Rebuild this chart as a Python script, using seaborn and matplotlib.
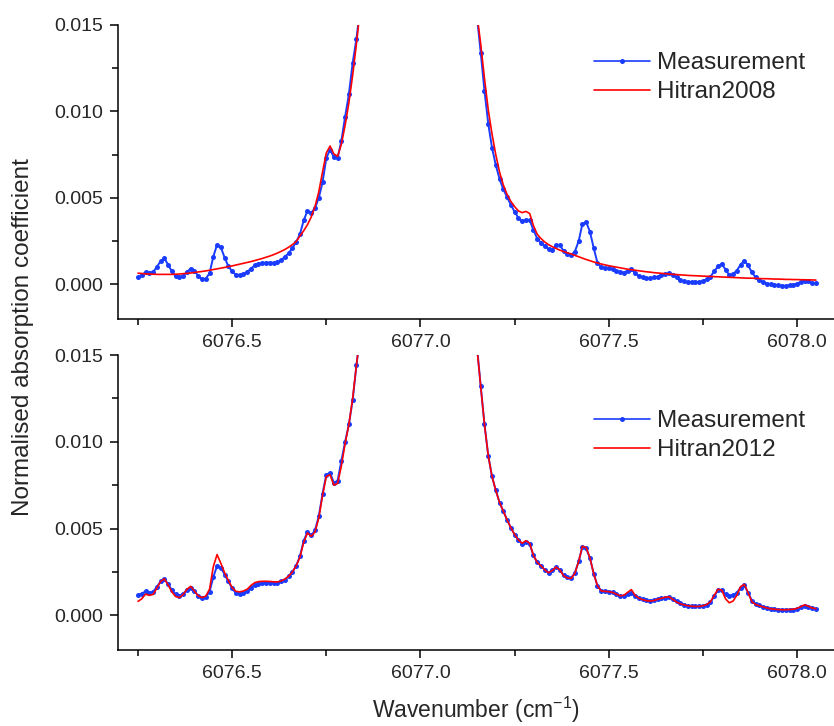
import numpy as np
import pandas as pd
import matplotlib
matplotlib.use('Agg')
import matplotlib.pyplot as plt
from matplotlib.ticker import MultipleLocator, FormatStrFormatter
import seaborn as sns

# wavenumber grids (cm-1), the strong line centre in between is off scale
wn_left = np.round(np.arange(6076.25, 6076.845, 0.01), 2)
wn_right = np.round(np.arange(6077.15, 6078.055, 0.01), 2)

# absorption values in units of 1e-3
meas_top_left = [
    0.40, 0.55, 0.70, 0.68, 0.72, 1.00, 1.35, 1.50, 1.15, 0.75,
    0.48, 0.40, 0.50, 0.72, 0.92, 0.80, 0.48, 0.30, 0.33, 0.65,
    1.60, 2.30, 2.15, 1.55, 1.05, 0.75, 0.55, 0.52, 0.60, 0.72,
    0.92, 1.10, 1.20, 1.24, 1.26, 1.26, 1.25, 1.30, 1.40, 1.60,
    1.80, 2.10, 2.45, 2.90, 3.70, 4.25, 4.15, 4.40, 5.00, 5.90,
    7.30, 7.80, 7.35, 7.30, 8.30, 9.70, 11.00, 12.80, 14.20, 16.00]
meas_top_right = [
    15.5, 13.4, 11.2, 9.3, 7.9, 6.9, 6.1, 5.5, 5.05, 4.6,
    4.2, 3.85, 3.65, 3.75, 3.7, 3.15, 2.65, 2.4, 2.22, 2.05,
    2.0, 2.25, 2.25, 1.95, 1.78, 1.70, 1.9, 2.5, 3.5, 3.6,
    3.05, 2.10, 1.25, 0.98, 0.97, 0.95, 0.88, 0.80, 0.72, 0.68,
    0.80, 0.88, 0.65, 0.48, 0.40, 0.35, 0.35, 0.40, 0.45, 0.52,
    0.60, 0.65, 0.55, 0.40, 0.25, 0.18, 0.14, 0.13, 0.13, 0.14,
    0.20, 0.30, 0.45, 0.75, 1.05, 1.20, 0.85, 0.55, 0.60, 0.80,
    1.15, 1.38, 1.10, 0.70, 0.40, 0.25, 0.12, 0.05, 0.02, -0.02,
    -0.05, -0.07, -0.08, -0.06, -0.02, 0.05, 0.15, 0.22, 0.18, 0.08,
    0.06]
hitran2008_left = [
    0.65, 0.63, 0.61, 0.60, 0.59, 0.58, 0.58, 0.58, 0.58, 0.58,
    0.59, 0.60, 0.62, 0.64, 0.66, 0.69, 0.72, 0.75, 0.78, 0.82,
    0.86, 0.90, 0.94, 0.98, 1.03, 1.07, 1.12, 1.17, 1.22, 1.27,
    1.32, 1.38, 1.44, 1.50, 1.57, 1.64, 1.72, 1.81, 1.91, 2.02,
    2.15, 2.30, 2.48, 2.80, 3.10, 3.45, 3.90, 4.50, 5.35, 6.50,
    7.60, 8.00, 7.55, 7.40, 8.10, 9.20, 10.50, 12.10, 13.90, 15.90]
hitran2008_right = [
    15.6, 13.9, 11.9, 10.1, 8.7, 7.5, 6.5, 5.75, 5.2, 4.8,
    4.5, 4.25, 4.15, 4.22, 4.1, 3.4, 2.9, 2.65, 2.45, 2.3,
    2.18, 2.08, 1.98, 1.9, 1.83, 1.76, 1.68, 1.6, 1.52, 1.44,
    1.37, 1.3, 1.24, 1.18, 1.13, 1.08, 1.04, 1.0, 0.96, 0.92,
    0.88, 0.85, 0.82, 0.79, 0.76, 0.73, 0.71, 0.68, 0.66, 0.64,
    0.62, 0.60, 0.58, 0.57, 0.55, 0.54, 0.52, 0.51, 0.50, 0.49,
    0.48, 0.47, 0.46, 0.45, 0.44, 0.43, 0.42, 0.41, 0.40, 0.39,
    0.38, 0.37, 0.36, 0.36, 0.35, 0.34, 0.33, 0.33, 0.32, 0.31,
    0.31, 0.30, 0.29, 0.29, 0.28, 0.28, 0.27, 0.27, 0.26, 0.26,
    0.25]

meas_bot_left = [
    1.15, 1.25, 1.38, 1.30, 1.35, 1.63, 1.95, 2.10, 1.80, 1.45,
    1.20, 1.12, 1.25, 1.45, 1.60, 1.40, 1.12, 1.00, 1.05, 1.35,
    2.20, 2.85, 2.75, 2.35, 1.95, 1.55, 1.28, 1.25, 1.28, 1.38,
    1.60, 1.75, 1.82, 1.86, 1.87, 1.87, 1.87, 1.88, 1.95, 2.05,
    2.25, 2.50, 2.85, 3.40, 4.30, 4.80, 4.60, 4.90, 5.70, 7.00,
    8.10, 8.20, 7.65, 7.75, 8.90, 10.00, 11.00, 12.40, 14.40, 16.20]
meas_bot_right = [
    15.5, 13.2, 11.0, 9.2, 8.0, 7.2, 6.5, 6.0, 5.5, 5.05,
    4.65, 4.35, 4.12, 4.25, 4.10, 3.45, 3.05, 2.85, 2.62, 2.45,
    2.60, 2.78, 2.62, 2.30, 2.18, 2.15, 2.45, 3.10, 3.95, 3.85,
    3.30, 2.40, 1.70, 1.42, 1.40, 1.37, 1.32, 1.20, 1.10, 1.10,
    1.20, 1.28, 1.10, 0.98, 0.92, 0.86, 0.84, 0.88, 0.95, 0.97,
    1.02, 1.05, 0.95, 0.80, 0.70, 0.62, 0.56, 0.53, 0.52, 0.52,
    0.55, 0.62, 0.75, 1.10, 1.45, 1.45, 1.20, 1.12, 1.15, 1.30,
    1.60, 1.72, 1.30, 0.85, 0.65, 0.58, 0.50, 0.43, 0.38, 0.35,
    0.33, 0.32, 0.32, 0.32, 0.33, 0.36, 0.45, 0.55, 0.50, 0.40,
    0.37]
hitran2012_left = [
    0.80, 0.95, 1.22, 1.15, 1.20, 1.55, 1.95, 2.10, 1.75, 1.35,
    1.08, 1.02, 1.20, 1.50, 1.67, 1.40, 1.12, 1.02, 1.10, 1.50,
    2.80, 3.50, 3.00, 2.45, 2.00, 1.60, 1.38, 1.35, 1.40, 1.50,
    1.72, 1.88, 1.94, 1.96, 1.96, 1.95, 1.93, 1.92, 1.98, 2.08,
    2.25, 2.50, 2.85, 3.35, 4.20, 4.75, 4.55, 4.80, 5.60, 6.90,
    8.00, 8.10, 7.50, 7.60, 8.60, 9.90, 11.00, 12.50, 14.40, 16.20]
hitran2012_right = [
    15.4, 13.2, 11.0, 9.2, 8.0, 7.2, 6.5, 6.0, 5.5, 5.05,
    4.65, 4.35, 4.15, 4.30, 4.15, 3.45, 3.05, 2.85, 2.62, 2.45,
    2.58, 2.78, 2.62, 2.28, 2.15, 2.12, 2.42, 3.10, 3.98, 3.90,
    3.30, 2.40, 1.70, 1.40, 1.38, 1.36, 1.32, 1.22, 1.12, 1.15,
    1.32, 1.48, 1.15, 0.98, 0.90, 0.84, 0.82, 0.85, 0.92, 0.98,
    1.04, 1.06, 0.92, 0.76, 0.66, 0.60, 0.55, 0.52, 0.51, 0.51,
    0.55, 0.62, 0.78, 1.15, 1.50, 1.45, 0.95, 0.72, 0.82, 1.15,
    1.65, 1.78, 1.30, 0.78, 0.62, 0.55, 0.48, 0.42, 0.37, 0.35,
    0.33, 0.32, 0.32, 0.33, 0.35, 0.40, 0.50, 0.60, 0.52, 0.42,
    0.38]

BLUE = '#1a3cff'
RED = '#ff0000'

sns.set_style('ticks')
plt.rcParams['font.family'] = ['Liberation Sans', 'DejaVu Sans']
plt.rcParams['mathtext.fontset'] = 'custom'
plt.rcParams['mathtext.rm'] = 'Liberation Sans'
plt.rcParams['mathtext.it'] = 'Liberation Sans'


def make_frame(meas_l, meas_r, model_l, model_r):
    wn = np.concatenate([wn_left, wn_right])
    meas = np.concatenate([meas_l, meas_r]) * 1e-3
    model = np.concatenate([model_l, model_r]) * 1e-3
    return pd.DataFrame({'wn': wn, 'meas': meas, 'model': model})


def draw_panel(ax, df, model_name, legend_y):
    sns.lineplot(data=df, x='wn', y='meas', ax=ax, color=BLUE, linewidth=1.4,
                 marker='o', markersize=3.6, markeredgewidth=0, label='Measurement',
                 estimator=None, sort=False)
    sns.lineplot(data=df, x='wn', y='model', ax=ax, color=RED, linewidth=1.2,
                 label=model_name, estimator=None, sort=False)
    ax.set_xlim(6076.197, 6078.098)
    ax.set_ylim(-0.002, 0.015)
    ax.xaxis.set_major_locator(MultipleLocator(0.5))
    ax.xaxis.set_minor_locator(MultipleLocator(0.25))
    ax.yaxis.set_major_locator(MultipleLocator(0.005))
    ax.yaxis.set_minor_locator(MultipleLocator(0.0025))
    ax.xaxis.set_major_formatter(FormatStrFormatter('%.1f'))
    ax.yaxis.set_major_formatter(FormatStrFormatter('%.3f'))
    ax.tick_params(which='major', direction='out', length=6, width=1.1,
                   labelsize=14, pad=5, color='black')
    ax.tick_params(which='minor', direction='out', length=4, width=1.1, color='black')
    for s in ['left', 'bottom']:
        ax.spines[s].set_linewidth(1.1)
        ax.spines[s].set_color('black')
    sns.despine(ax=ax)
    ax.set_xlabel('')
    ax.set_ylabel('')
    leg = ax.legend(loc='upper left', bbox_to_anchor=(0.665, legend_y), frameon=False,
                    fontsize=17.5, handlelength=2.3, handletextpad=0.3, labelspacing=0.3,
                    borderpad=0, borderaxespad=0)
    for h in leg.legend_handles:
        h.set_linewidth(1.2)


fig = plt.figure(figsize=(8.34, 7.26), dpi=100)
ax1 = fig.add_axes([0.1415, 0.5606, 0.8585, 0.405])
ax2 = fig.add_axes([0.1415, 0.1047, 0.8585, 0.4063])

draw_panel(ax1, make_frame(meas_top_left, meas_top_right, hitran2008_left, hitran2008_right),
           'Hitran2008', 0.908)
draw_panel(ax2, make_frame(meas_bot_left, meas_bot_right, hitran2012_left, hitran2012_right),
           'Hitran2012', 0.813)

ax2.set_xlabel('Wavenumber (cm$^{-1}$)', fontsize=16.5, labelpad=9)
fig.text(0.027, 0.536, 'Normalised absorption coefficient', rotation=90,
         ha='center', va='center', fontsize=17.5)

fig.savefig('out.png', dpi=100)
